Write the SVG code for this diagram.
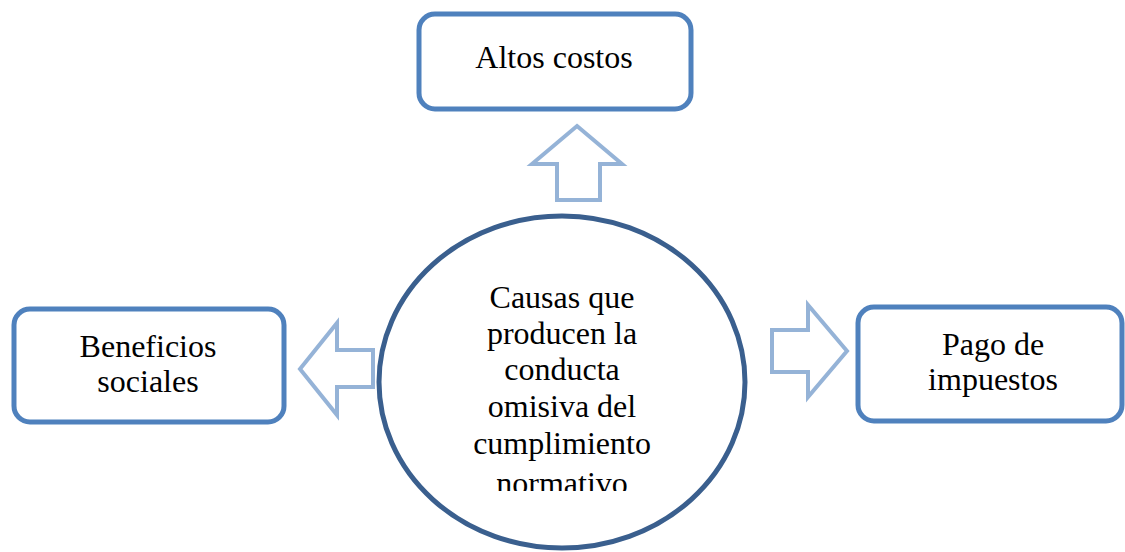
<svg xmlns="http://www.w3.org/2000/svg" width="1125" height="552" viewBox="0 0 1125 552">
<style>
.box{fill:#fff;stroke:#4F81BD;stroke-width:5}
.arr{fill:#fff;stroke:#95B3D7;stroke-width:4;stroke-linejoin:miter}
.t{font-family:"Liberation Serif","Times New Roman",serif;font-size:32px;fill:#000;text-anchor:middle}
</style>
<defs>
<clipPath id="cclip"><rect x="380" y="270" width="370" height="221"/></clipPath>
</defs>
<rect width="1125" height="552" fill="#fff"/>
<g id="connectors">
<path class="arr" d="M577,126 L622,164 L600,164 L600,200 L557,200 L557,164 L532,164 Z"/>
<path class="arr" d="M300,369 L337,323 L337,350 L373,350 L373,387 L337,387 L337,415 Z"/>
<path class="arr" d="M847,351 L808,305 L808,330 L772,330 L772,372 L808,372 L808,397 Z"/>
</g>
<g id="node-top">
<rect class="box" x="419" y="14" width="272" height="95" rx="16"/>
<text class="t" x="554" y="68">Altos costos</text>
</g>
<g id="node-left">
<rect class="box" x="14" y="309" width="270" height="113" rx="16"/>
<text class="t" x="148" y="357">Beneficios</text>
<text class="t" x="148" y="392">sociales</text>
</g>
<g id="node-right">
<rect class="box" x="858" y="307" width="264" height="114" rx="16"/>
<text class="t" x="993" y="355">Pago de</text>
<text class="t" x="993" y="390">impuestos</text>
</g>
<g id="node-center">
<ellipse cx="562" cy="382" rx="183" ry="166" fill="#fff" stroke="#3A5F8E" stroke-width="5"/>
<g clip-path="url(#cclip)">
<text class="t" x="562" y="308">Causas que</text>
<text class="t" x="562" y="344">producen la</text>
<text class="t" x="562" y="380">conducta</text>
<text class="t" x="562" y="417">omisiva del</text>
<text class="t" x="562" y="454">cumplimiento</text>
<text class="t" x="562" y="494">normativo</text>
</g>
</g>
</svg>
